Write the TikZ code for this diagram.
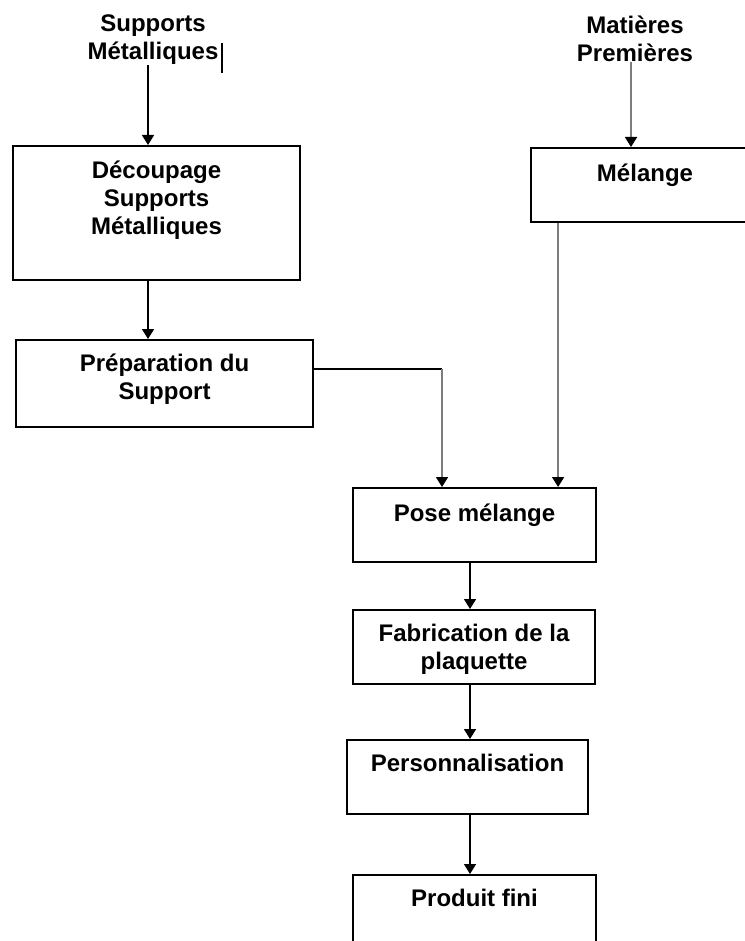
\documentclass[tikz,border=0pt]{standalone}
\usepackage{fontspec}
\setmainfont{Liberation Sans}
\usetikzlibrary{arrows.meta}
\definecolor{gris}{RGB}{125,125,125}

\begin{document}
\begin{tikzpicture}[x=0.5pt,y=-0.5pt]
  \tikzset{etape/.style = {draw, line width=0.9pt, anchor=north, align=center,
      font={\fontsize{12}{14}\selectfont\bfseries}, inner xsep=2pt, inner ysep=4pt, text height=12pt}};
  \tikzset{source/.style = {align=center, font={\fontsize{12}{14}\selectfont\bfseries}, inner sep=0pt}};
  \tikzset{lien/.style = {line width=0.8pt, -{Triangle[length=5pt,width=6pt,black]}}};
  \useasboundingbox (0,0) rectangle (744,941);

  % entrees
  \node[source] (sup) at (153,40) {Supports\\Métalliques};
  \node[source] (mat) at (635,39) {Matières\\Premières};
  \draw[line width=0.6pt] (222,43) -- (222,73);

  % etapes
  \node[etape, minimum width=143.5pt, text height=40.5pt, text depth=18.5pt] (decoup) at (156.5,145) {Découpage\\Supports\\Métalliques};
  \node[etape, minimum width=114pt, text height=13pt, text depth=16pt] (melange) at (645,147) {Mélange};
  \node[etape, minimum width=148.5pt, text height=26pt, text depth=9.5pt] (prep) at (164.5,339) {Préparation du\\Support};
  \node[etape, minimum width=121.5pt, text height=13pt, text depth=16pt] (pose) at (474.5,487) {Pose mélange};
  \node[etape, minimum width=121pt, text height=26pt, text depth=3pt] (fab) at (474,609) {Fabrication de la\\plaquette};
  \node[etape, minimum width=120.5pt, text depth=17pt] (perso) at (467.5,739) {Personnalisation};
  \node[etape, minimum width=121.5pt, text depth=17pt] (produit) at (474.5,874) {Produit fini};

  % fleches
  \draw[lien] ([xshift=-2.5pt]sup.south) -- ([xshift=-2.5pt]sup.south |- decoup.north);
  \draw[lien, gris] ([xshift=-2pt]mat.south) -- ([xshift=-2pt]mat.south |- melange.north);
  \draw[lien] ([xshift=-4.25pt]decoup.south) -- ([xshift=-4.25pt]decoup.south |- prep.north);
  \draw[lien, gris] ([xshift=14pt]melange.south west) -- ([xshift=14pt]melange.south west |- pose.north);
  \coordinate (prepout) at ([yshift=7.25pt]prep.east);
  \coordinate (posein) at ([xshift=-16.25pt]pose.north);
  \coordinate (coude) at (prepout -| posein);
  \draw[line width=0.8pt] (prepout) -- (coude);
  \draw[lien, gris] (coude) -- (posein);
  \draw[lien] ([xshift=-2.25pt]pose.south) -- ([xshift=-2.25pt]pose.south |- fab.north);
  \draw[lien] ([xshift=-2pt]fab.south) -- ([xshift=-2pt]fab.south |- perso.north);
  \draw[lien] ([xshift=1.25pt]perso.south) -- ([xshift=1.25pt]perso.south |- produit.north);
\end{tikzpicture}
\end{document}
